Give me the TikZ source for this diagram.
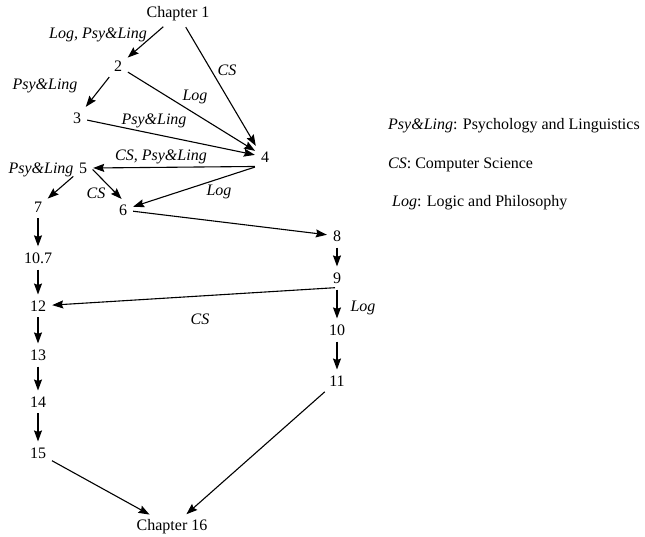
\documentclass[tikz,border=0pt]{standalone}
\usepackage{fontspec}
\setmainfont{Liberation Serif}
\usetikzlibrary{arrows.meta}
\tikzset{
    flow/.style={-{Stealth[length=11pt,width=8pt,inset=1.5pt]}, line width=1.1pt,
        shorten <=2pt, shorten >=2pt},
    lbl/.style={font=\fontsize{16}{19}\selectfont\itshape, inner sep=0pt},
    key/.style={anchor=west, inner sep=0pt}
}

\begin{document}
\begin{tikzpicture}[x=1pt, y=-1pt]
    \tikzstyle{every node}=[inner sep=4pt, font=\fontsize{16}{19}\selectfont];
    \useasboundingbox (0,0) rectangle (645,537);
    % chapters
    \node (c1) at (178,14) {Chapter 1};
    \node (n2) at (118,66) {2};
    \node (n3) at (77,118) {3};
    \node (n4) at (265,157) {4};
    \node (n5) at (83,168) {5};
    \node (n6) at (123,210) {6};
    \node (n7) at (38,207) {7};
    \node (n8) at (337,236) {8};
    \node (n9) at (337,278) {9};
    \node (n107) at (38,258) {10.7};
    \node (n12) at (38,306) {12};
    \node (n10) at (337,330) {10};
    \node (n11) at (337,381) {11};
    \node (n13) at (38,355) {13};
    \node (n14) at (38,402) {14};
    \node (n15) at (38,453) {15};
    \node (c16) at (172,527) {Chapter 16};
    % arrows
    \draw[flow] (c1) -- (n2);
    \draw[flow] (c1) -- (n4.north west);
    \draw[flow] (n2) -- (n3);
    \draw[flow] (n2) -- (n4);
    \draw[flow] (n3) -- (n4);
    \draw[flow] (n4.south west) -- (n5.east);
    \draw[flow] (n4.south west) -- (n6);
    \draw[flow] (n5) -- (n7);
    \draw[flow] (n5.east) -- (n6.north);
    \draw[flow] (n6) -- (n8);
    \draw[flow] (n7) -- (n107);
    \draw[flow] (n107) -- (n12);
    \draw[flow] (n8) -- (n9);
    \draw[flow] (n9.south) -- (n12);
    \draw[flow] (n9.south) -- (n10);
    \draw[flow] (n10) -- (n11);
    \draw[flow] (n12) -- (n13);
    \draw[flow] (n13) -- (n14);
    \draw[flow] (n14) -- (n15);
    \draw[flow] (n15) -- (c16);
    \draw[flow] (n11) -- (c16);
    % labels
    \node[lbl] (l1) at (98,35) {Log, Psy\&Ling};
    \node[lbl] (l2) at (227,70) {CS};
    \node[lbl] (l3) at (45,86) {Psy\&Ling};
    \node[lbl] (l4) at (195,97) {Log};
    \node[lbl] (l5) at (154,121) {Psy\&Ling};
    \node[lbl] (l6) at (161,157) {CS, Psy\&Ling};
    \node[lbl] (l7) at (41,170) {Psy\&Ling};
    \node[lbl] (l8) at (96,193) {CS};
    \node[lbl] (l9) at (219,192) {Log};
    \node[lbl] (l10) at (200,319) {CS};
    \node[lbl] (l11) at (363,308) {Log};
    % key
    \node[key] (k1) at (388,126) {\textit{Psy\&Ling}: Psychology and Linguistics};
    \node[key] (k2) at (388,165) {\textit{CS}: Computer Science};
    \node[key] (k3) at (392,203) {\textit{Log}: Logic and Philosophy};
\end{tikzpicture}
\end{document}
